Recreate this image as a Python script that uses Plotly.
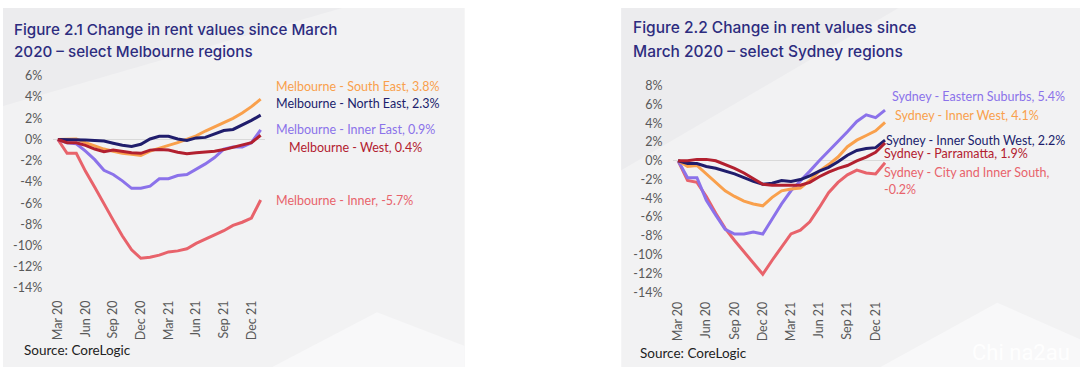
import plotly.graph_objects as go

W, H = 1080, 374

months = ["Mar 20", "Apr 20", "May 20", "Jun 20", "Jul 20", "Aug 20", "Sep 20", "Oct 20",
          "Nov 20", "Dec 20", "Jan 21", "Feb 21", "Mar 21", "Apr 21", "May 21", "Jun 21",
          "Jul 21", "Aug 21", "Sep 21", "Oct 21", "Nov 21", "Dec 21", "Jan 22"]
tick_months = ["Mar 20", "Jun 20", "Sep 20", "Dec 20", "Mar 21", "Jun 21", "Sep 21", "Dec 21"]

# Melbourne (% change since March 2020)
mel_inner = [0, -1.3, -1.3, -3.0, -4.5, -6.1, -7.6, -9.1, -10.4, -11.2, -11.1, -10.9, -10.6,
             -10.5, -10.3, -9.8, -9.4, -9.0, -8.6, -8.1, -7.8, -7.4, -5.7]
mel_inner_east = [0, -0.3, -0.4, -1.1, -1.9, -2.9, -3.3, -3.9, -4.6, -4.6, -4.4, -3.7, -3.7,
                  -3.4, -3.3, -2.8, -2.3, -1.7, -0.9, -0.7, -0.7, -0.3, 0.9]
mel_south_east = [0, 0.0, 0.05, -0.3, -0.6, -0.9, -1.1, -1.3, -1.4, -1.5, -1.1, -0.8, -0.55,
                  -0.3, 0.0, 0.35, 0.8, 1.2, 1.6, 2.0, 2.5, 3.1, 3.8]
mel_north_east = [0, 0, 0, -0.05, -0.1, -0.15, -0.35, -0.55, -0.65, -0.45, 0.05, 0.3, 0.3,
                  0.05, -0.1, 0.15, 0.2, 0.5, 0.85, 0.95, 1.35, 1.8, 2.3]
mel_west = [0, -0.3, -0.3, -0.55, -0.9, -1.15, -1.0, -1.15, -1.25, -1.3, -1.0, -0.95, -1.0,
            -1.2, -1.35, -1.25, -1.2, -1.1, -0.95, -0.75, -0.55, -0.3, 0.4]

# Sydney (% change since March 2020)
syd_city = [0, -2.1, -2.3, -3.8, -5.6, -7.2, -8.5, -9.7, -10.9, -12.1, -10.6, -9.2, -7.8,
            -7.4, -6.5, -5.0, -3.4, -2.3, -1.5, -1.0, -1.3, -1.4, -0.2]
syd_eastern = [0, -1.8, -1.8, -4.2, -5.8, -7.3, -7.8, -7.8, -7.6, -7.8, -6.2, -4.6, -3.2,
               -2.2, -1.1, 0.0, 1.0, 2.0, 3.1, 4.2, 4.9, 4.6, 5.4]
syd_inner_west = [0, -0.6, -0.5, -1.4, -2.3, -3.2, -3.8, -4.3, -4.6, -4.8, -3.9, -3.2, -3.0,
                  -2.9, -2.1, -1.1, -0.4, 0.4, 1.5, 2.2, 2.7, 3.2, 4.1]
syd_inner_sw = [0, -0.3, -0.3, -0.6, -0.8, -1.1, -1.4, -1.8, -2.2, -2.5, -2.4, -2.1, -2.2,
                -2.0, -1.6, -1.1, -0.7, -0.1, 0.6, 1.1, 1.3, 1.4, 2.2]
syd_parramatta = [0, 0, 0.15, 0.15, 0.0, -0.4, -0.8, -1.3, -1.9, -2.5, -2.6, -2.6, -2.6,
                  -2.6, -2.3, -1.7, -1.2, -0.8, -0.5, 0.0, 0.4, 0.9, 1.9]

mel_yticks = list(range(-14, 7, 2))
syd_yticks = list(range(-14, 9, 2))

PINK = "#e8636b"
PURPLE = "#8b72ea"
ORANGE = "#f9a04c"
NAVY = "#201d6c"
RED = "#b2202f"
TITLE_C = "#2d2c7f"
TICK_C = "#595959"


def fx(px):
    return px / W


def fy(py):
    return 1 - py / H


fig = go.Figure()

mel_series = [(mel_inner, PINK), (mel_inner_east, PURPLE), (mel_south_east, ORANGE),
              (mel_north_east, NAVY), (mel_west, RED)]
syd_series = [(syd_city, PINK), (syd_eastern, PURPLE), (syd_inner_west, ORANGE),
              (syd_inner_sw, NAVY), (syd_parramatta, RED)]

tick_pos = [i - 0.5 for i in range(0, 22, 3)]
for xa, ya in (("x", "y"), ("x2", "y2")):
    # faint tick marks along the zero line (between categories, every 3 months)
    fig.add_trace(go.Scatter(
        x=tick_pos, y=[0] * len(tick_pos), mode="markers",
        marker=dict(symbol="line-ns", size=6, line=dict(color="#d6d6d6", width=1)),
        hoverinfo="skip", xaxis=xa, yaxis=ya))

for vals, col in mel_series:
    fig.add_trace(go.Scatter(x=months, y=vals, mode="lines",
                             line=dict(color=col, width=3), xaxis="x", yaxis="y"))
for vals, col in syd_series:
    fig.add_trace(go.Scatter(x=months, y=vals, mode="lines",
                             line=dict(color=col, width=3), xaxis="x2", yaxis="y2"))

common_x = dict(type="category", categoryorder="array", categoryarray=months,
                range=[-0.5, 22.5], tickvals=tick_months, ticktext=tick_months,
                tickangle=-90, showgrid=False, zeroline=False, showline=False, ticks="",
                tickfont=dict(family="Lato", size=12.5, color=TICK_C), fixedrange=True)
common_y = dict(showgrid=False, zeroline=True, zerolinecolor="#d9d9d9", zerolinewidth=1,
                showline=False, ticks="", tickfont=dict(family="Lato", size=12.5, color=TICK_C),
                fixedrange=True)

fig.update_layout(
    width=W, height=H, autosize=False,
    margin=dict(l=0, r=0, t=0, b=0),
    paper_bgcolor="white", plot_bgcolor="rgba(0,0,0,0)", showlegend=False,
    xaxis=dict(common_x, domain=[fx(50.4), fx(263)], anchor="y", ticklabelstandoff=9),
    yaxis=dict(common_y, domain=[fy(291.7), fy(70.7)], anchor="x", range=[-14, 6],
               tickvals=mel_yticks, ticktext=[f"{v}%" for v in mel_yticks],
               ticklabelstandoff=10),
    xaxis2=dict(common_x, domain=[fx(672.3), fx(889.2)], anchor="y2", ticklabelstandoff=6),
    yaxis2=dict(common_y, domain=[fy(296), fy(81)], anchor="x2", range=[-14, 8],
                tickvals=syd_yticks, ticktext=[f"{v}%" for v in syd_yticks],
                ticklabelstandoff=10),
)

shapes = []


def poly(pts, color):
    path = "M " + " L ".join(f"{fx(a)},{fy(b)}" for a, b in pts) + " Z"
    return dict(type="path", path=path, xref="paper", yref="paper",
                fillcolor=color, line=dict(width=0), layer="below")


# panel backgrounds
shapes.append(poly([(0, 0), (463, 0), (463, 374), (0, 374)], "#f2f2f3"))
shapes.append(poly([(0, 0), (340, 0), (0, 102)], "#ececee"))
shapes.append(poly([(270, 374), (375, 317), (463, 352), (463, 374)], "#f8f8f9"))
shapes.append(poly([(620, 0), (1080, 0), (1080, 374), (620, 374)], "#f2f2f3"))
shapes.append(poly([(620, 0), (898, 0), (620, 169)], "#ececee"))
shapes.append(poly([(880, 374), (997, 307), (1080, 345), (1080, 374)], "#f8f8f9"))
fig.update_layout(shapes=shapes)

ann = []


def text(x, y, s, color, size, family="Lato", weight="normal"):
    ann.append(dict(x=fx(x), y=fy(y), xref="paper", yref="paper", text=s, showarrow=False,
                    xanchor="left", yanchor="middle",
                    font=dict(family=family, size=size, color=color, weight=weight)))


# titles
text(9, 22.7, "Figure 2.1 Change in rent values since March", TITLE_C, 15.2, "Inter", 500)
text(9, 45.7, "2020 – select Melbourne regions", TITLE_C, 15.2, "Inter", 500)
text(630, 20, "Figure 2.2 Change in rent values since", TITLE_C, 15.5, "Inter", 500)
text(630, 45, "March 2020 – select Sydney regions", TITLE_C, 15.5, "Inter", 500)

# series labels Melbourne
text(272, 82, "Melbourne - South East, 3.8%", ORANGE, 12.5)
text(272, 100, "Melbourne - North East, 2.3%", NAVY, 12.5)
text(272, 127, "Melbourne - Inner East, 0.9%", PURPLE, 12.5)
text(285, 145, "Melbourne - West, 0.4%", RED, 12.5)
text(272, 201, "Melbourne - Inner, -5.7%", PINK, 12.5)

# series labels Sydney
text(889, 92.5, "Sydney - Eastern Suburbs, 5.4%", PURPLE, 12.5)
text(892, 111.7, "Sydney - Inner West, 4.1%", ORANGE, 12.5)
text(883, 138.3, "Sydney - Inner South West, 2.2%", NAVY, 12.5)
text(881, 151.5, "Sydney - Parramatta, 1.9%", RED, 12.5)
text(881, 171, "Sydney - City and Inner South,", PINK, 12.5)
text(881, 189, "-0.2%", PINK, 12.5)

# sources
text(19, 356, "Source: CoreLogic", "#222222", 13.5)
text(637, 359, "Source: CoreLogic", "#222222", 13.5)

# watermark
text(970, 359, "Chi na2au", "rgba(255,255,255,0.95)", 22, "Roboto")

fig.update_layout(annotations=ann)

fig.write_html("out.html", config={"displayModeBar": False},
               post_script="document.body.style.margin='0';"
                           "document.body.style.overflow='hidden';")
